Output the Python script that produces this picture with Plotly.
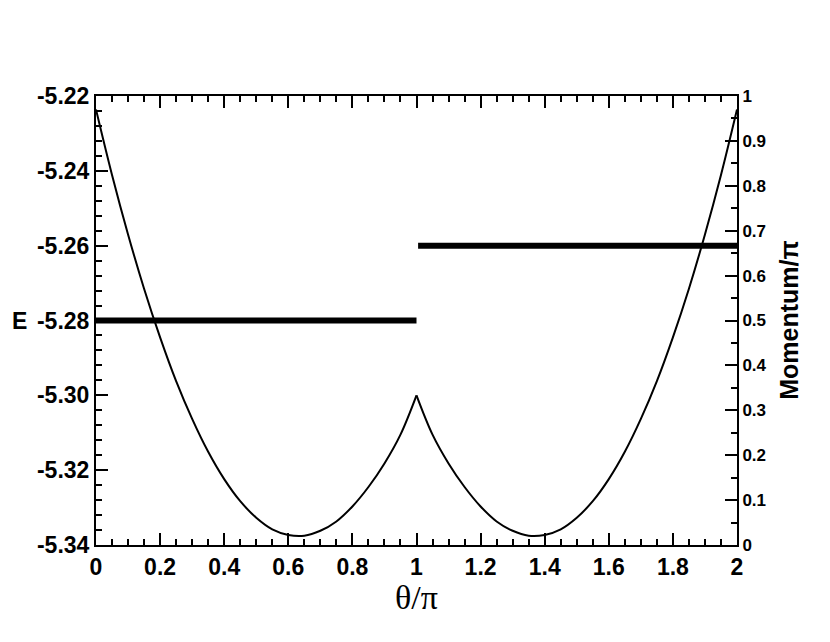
import plotly.graph_objects as go

# energy curve, left well (theta/pi from 0 to 1)
theta_left = [0.0, 0.05, 0.10, 0.15, 0.20, 0.25, 0.30, 0.35, 0.40, 0.45, 0.50,
              0.55, 0.60, 0.65, 0.70, 0.75, 0.80, 0.85, 0.90, 0.95, 1.0]
energy_left = [-5.2236, -5.2411, -5.2570, -5.2715, -5.2845, -5.2962, -5.3063,
               -5.3151, -5.3224, -5.3283, -5.3327, -5.3358, -5.3373, -5.3375,
               -5.3362, -5.3337, -5.3297, -5.3245, -5.3182, -5.3105, -5.3000]

# right well (theta/pi from 1 to 2)
theta_right = [1.0, 1.05, 1.10, 1.15, 1.20, 1.25, 1.30, 1.35, 1.40, 1.45, 1.50,
               1.55, 1.60, 1.65, 1.70, 1.75, 1.80, 1.85, 1.90, 1.95, 2.0]
energy_right = [-5.3000, -5.3105, -5.3182, -5.3245, -5.3297, -5.3337, -5.3362,
                -5.3375, -5.3373, -5.3358, -5.3327, -5.3283, -5.3224, -5.3151,
                -5.3063, -5.2962, -5.2845, -5.2715, -5.2570, -5.2411, -5.2236]

# ground state momentum / pi
mom_theta_a = [0.0, 1.0]
mom_a = [0.5, 0.5]
mom_theta_b = [1.005, 2.0]
mom_b = [0.6667, 0.6667]

# left axis labels use a plain hyphen
e_ticks = [-5.34, -5.32, -5.30, -5.28, -5.26, -5.24, -5.22]
e_labels = ["-5.34", "-5.32", "-5.30", "-5.28", "-5.26", "-5.24", "-5.22"]

SANS = "Liberation Sans"
BOLD_TICKS = dict(family=SANS, size=23, color="black", weight="bold")

fig = go.Figure()
for tx, ey in [(theta_left, energy_left), (theta_right, energy_right)]:
    fig.add_trace(go.Scatter(x=tx, y=ey, mode="lines", line=dict(color="black", width=2, shape="spline"),
                             showlegend=False))
for tx, my in [(mom_theta_a, mom_a), (mom_theta_b, mom_b)]:
    fig.add_trace(go.Scatter(x=tx, y=my, yaxis="y2", mode="lines", line=dict(color="black", width=6),
                             showlegend=False))

# page body adds an 8px offset, so margins are shifted to compensate
fig.update_layout(
    width=830, height=642,
    margin=dict(l=88, r=101, t=88, b=105),
    plot_bgcolor="white", paper_bgcolor="white",
    xaxis=dict(range=[0, 2], dtick=0.2, ticks="inside", ticklen=12, tickwidth=2, tickcolor="black",
               showline=True, linewidth=2, linecolor="black", mirror="ticks", showgrid=False,
               zeroline=False, tickfont=BOLD_TICKS,
               minor=dict(dtick=0.05, ticks="inside", ticklen=6, tickwidth=2, tickcolor="black", showgrid=False)),
    yaxis=dict(range=[-5.34, -5.22], tickvals=e_ticks, ticktext=e_labels, ticks="inside", ticklen=12,
               tickwidth=2, tickcolor="black", showline=True, linewidth=2, linecolor="black", showgrid=False,
               zeroline=False, tickfont=BOLD_TICKS,
               minor=dict(dtick=0.004, tick0=-5.34, ticks="inside", ticklen=6, tickwidth=2,
                          tickcolor="black", showgrid=False)),
    yaxis2=dict(range=[0, 1], dtick=0.1, overlaying="y", side="right", ticks="inside", ticklen=12, tickwidth=2,
                tickcolor="black", showline=True, linewidth=2, linecolor="black", showgrid=False,
                zeroline=False, tickfont=dict(family=SANS, size=17, color="black", weight="bold"),
                minor=dict(dtick=0.05, ticks="inside", ticklen=6, tickwidth=2, tickcolor="black", showgrid=False)),
    annotations=[
        dict(text="θ/π", x=0.5, y=-0.072, xref="paper", yref="paper", showarrow=False,
             xanchor="center", yanchor="top", font=dict(family="Liberation Serif", size=34, color="black")),
        dict(text="E", x=-0.12, y=0.5, xref="paper", yref="paper", showarrow=False,
             xanchor="center", yanchor="middle", font=dict(family=SANS, size=23, color="black", weight="bold")),
        dict(text="Momentum/π", x=1.08, y=0.5, xref="paper", yref="paper", showarrow=False, textangle=-90,
             xanchor="center", yanchor="middle", font=dict(family=SANS, size=25, color="black", weight="bold")),
    ],
)

fig.write_html("out.html")
